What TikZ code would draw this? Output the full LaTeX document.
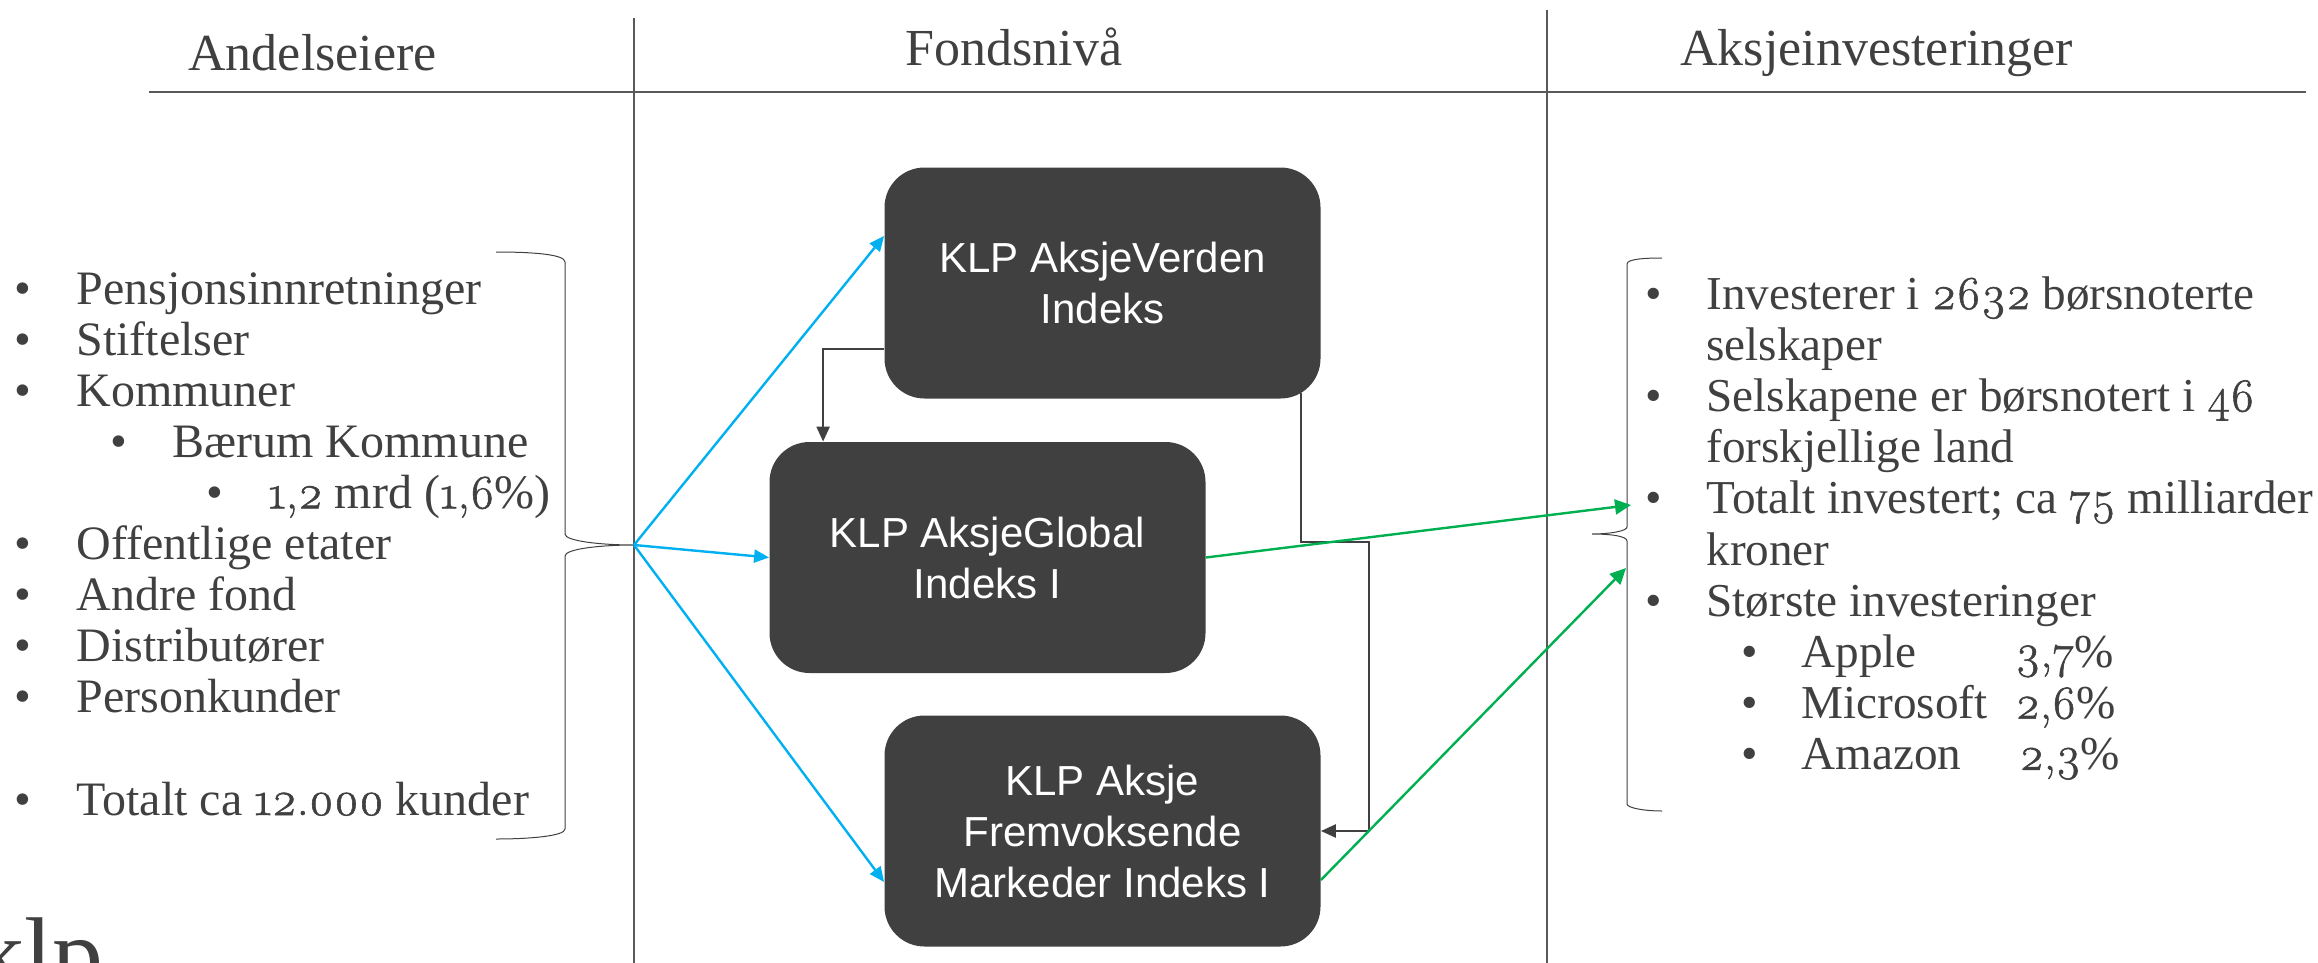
\documentclass[tikz,border=0pt]{standalone}
\usepackage{fontspec}
\setmainfont{Liberation Serif}
\setsansfont{Liberation Sans}
\newfontfamily\gamletall{Latin Modern Roman}[Numbers=OldStyle,FakeBold=1.2]
\newcommand{\on}[1]{{\gamletall #1}}
\usetikzlibrary{arrows.meta}
\definecolor{klpgra}{HTML}{404040}
\definecolor{linjegra}{HTML}{595959}
\definecolor{klpbla}{HTML}{00B0F0}
\definecolor{klpgronn}{HTML}{00B050}
\tikzset{
  fondsboks/.style={fill=klpgra,draw=none,rounded corners=20pt,minimum width=218pt,minimum height=115.5pt,
    inner sep=0pt,align=center,text=white,font=\sffamily\fontsize{21}{25.5}\selectfont},
  overskrift/.style={anchor=base west,inner sep=0pt,text=klpgra,font=\fontsize{26}{30}\selectfont},
  linje/.style={anchor=base west,inner sep=0pt,text=klpgra,font=\fontsize{24}{28}\selectfont},
  linjeh/.style={linje,font=\fontsize{23.6}{28}\selectfont},
  skille/.style={draw=linjegra,line width=0.7pt},
  klamme/.style={draw=klpgra,line width=0.5pt},
  blapil/.style={draw=klpbla,line width=1.2pt,-{Triangle[length=7.5pt,width=6.5pt]}},
  gronnpil/.style={draw=klpgronn,line width=1.2pt,-{Triangle[length=8pt,width=7.5pt]}},
  morkpil/.style={draw=klpgra,line width=1.2pt,-{Triangle[length=7.5pt,width=6.5pt]}}
}
\begin{document}
\begin{tikzpicture}[x=0.5pt,y=-0.5pt]
\useasboundingbox (0,0) rectangle (2318,963);

% Overskrifter og skillelinjer
\node[overskrift] (andelseiere) at (188,71) {Andelseiere};
\node[overskrift] (fondsniva) at (905,66) {Fondsnivå};
\node[overskrift] (aksjeinv) at (1680,66) {Aksjeinvesteringer};
\draw[skille] (149,92) -- (2306,92);
\draw[skille] (634,18) -- (634,963);
\draw[skille] (1547,10) -- (1547,963);

% Fondene
\node[fondsboks] (verden) at (1102.5,283) {KLP AksjeVerden\\Indeks};
\node[fondsboks] (global) at (987.5,557.5) {KLP AksjeGlobal\\Indeks I};
\node[fondsboks] (fremvoksende) at (1102.5,831) {KLP Aksje\\Fremvoksende\\Markeder Indeks I};

% Klammene
\coordinate (klammetipp) at (634,545);
\coordinate (hoyretipp) at (1592,534);
\draw[klamme] (496,252) .. controls (530,252) and (565,254) .. (565,262) -- (565,534)
  .. controls (565,541) and (600,545) .. (klammetipp)
  .. controls (600,545) and (565,549) .. (565,556) -- (565,829)
  .. controls (565,836) and (530,839) .. (496,839);
\draw[klamme] (1662,258) .. controls (1645,258) and (1627,259) .. (1627,264) -- (1627,527)
  .. controls (1627,531) and (1610,534) .. (hoyretipp)
  .. controls (1610,534) and (1627,536) .. (1627,541) -- (1627,804)
  .. controls (1627,808) and (1645,811) .. (1662,811);

% Andelseierne, en linje om gangen
\foreach \nivaa/\nr/\tekst in {0/0/Pensjonsinnretninger,0/1/Stiftelser,0/2/Kommuner,1/3/Bærum Kommune,
  2/4/{\on{1,2} mrd (\on{1,6}\%)},0/5/Offentlige etater,0/6/Andre fond,0/7/Distributører,0/8/Personkunder,
  0/10/{Totalt ca \on{12.000} kunder}}{
  \node[linje] (andelprikk\nr) at ({14+96*\nivaa},{304+51.1*\nr}) {•};
  \node[linje] (andel\nr) at ({76+96*\nivaa},{304+51.1*\nr}) {\tekst};
}

% Aksjeinvesteringene
\foreach \nr/\tekst in {0/{Investerer i \on{2632} børsnoterte},2/{Selskapene er børsnotert i \on{46}},
  4/{Totalt investert; ca \on{75} milliarder},6/Største investeringer}{
  \node[linjeh] (aksjeprikk\nr) at (1645,{309+51.2*\nr}) {•};
  \node[linjeh] (aksje\nr) at (1706,{309+51.2*\nr}) {\tekst};
}
\foreach \nr/\tekst in {1/selskaper,3/forskjellige land,5/kroner}{
  \node[linjeh] (aksje\nr) at (1706,{309+51.2*\nr}) {\tekst};
}
\foreach \nr/\tekst/\px/\andel in {7/Apple/2015/{3,7},8/Microsoft/2015/{2,6},9/Amazon/2019/{2,3}}{
  \node[linjeh] (selskapprikk\nr) at (1741,{309+51.2*\nr}) {•};
  \node[linjeh] (selskap\nr) at (1801,{309+51.2*\nr}) {\tekst};
  \node[linjeh] (prosent\nr) at (\px,{309+51.2*\nr}) {\on{\andel}\%};
}

% Piler fra klammen til fondene
\draw[blapil] (klammetipp) -- ([yshift=23.5pt]verden.west);
\draw[blapil] (klammetipp) -- (global.west);
\draw[blapil] (klammetipp) -- ([yshift=-25.5pt]fremvoksende.west);

% Piler mellom fondene
\coordinate (knekk) at (1369,542);
\draw[morkpil] ([yshift=-33pt]verden.west) -| ([xshift=27pt]global.north west);
\draw[morkpil] ([xshift=-10pt,yshift=3pt]verden.south east) |- (knekk) |- (fremvoksende.east);

% Piler til aksjene
\coordinate (aksjemaal) at (1631,505);
\coordinate (aksjemaalto) at (1626,568);
\draw[gronnpil] (global.east) -- (aksjemaal);
\draw[gronnpil] ([yshift=-24.5pt]fremvoksende.east) -- (aksjemaalto);

% Logoen nederst i hjornet
\node[anchor=base west,inner sep=0pt,text=klpgra,font=\fontsize{51}{54}\selectfont] (logo) at (-27,988) {klp};
\end{tikzpicture}
\end{document}
